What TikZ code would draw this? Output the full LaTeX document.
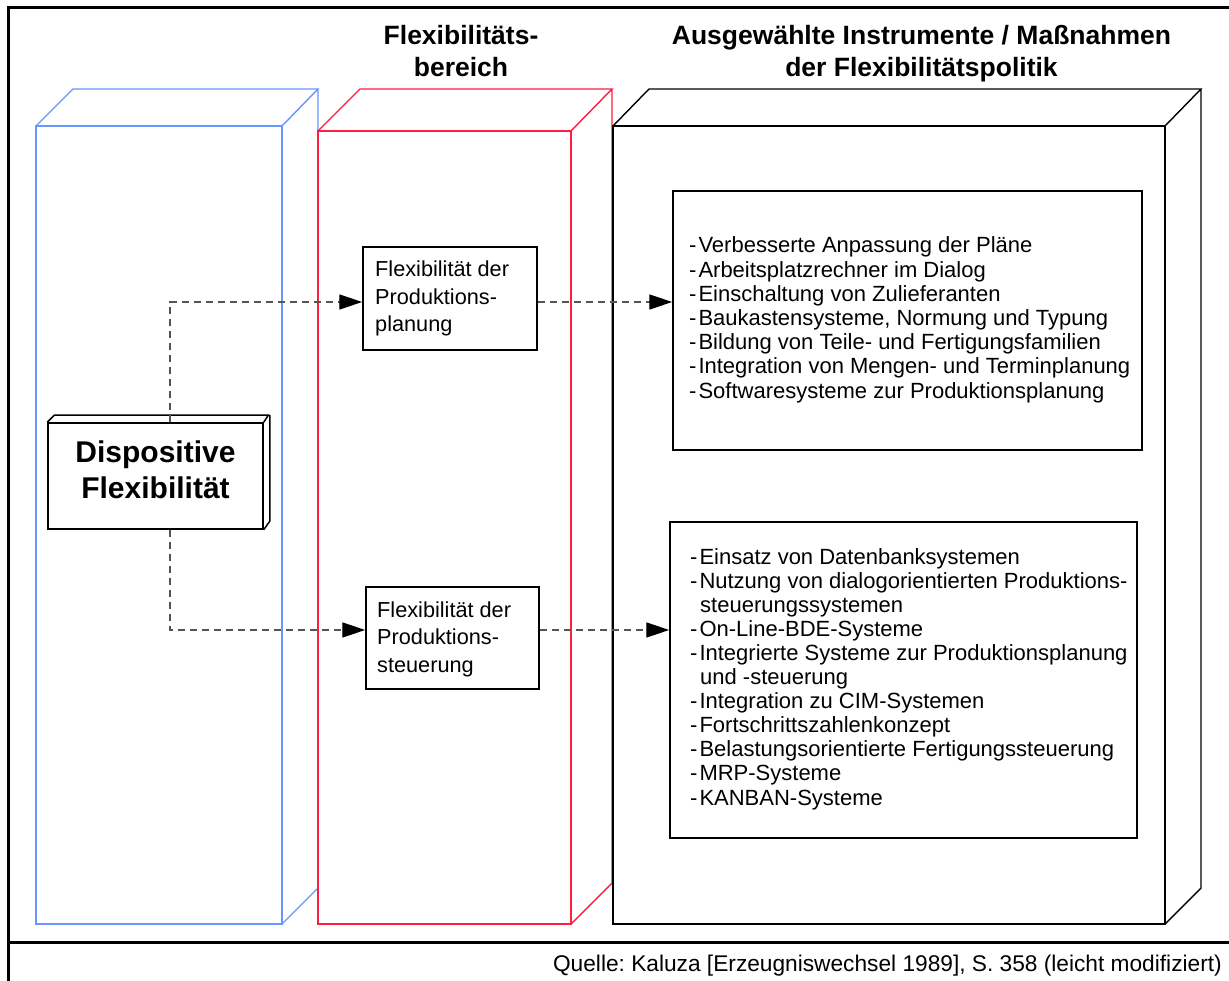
\documentclass[tikz,border=0pt]{standalone}
\usepackage{fontspec}
\setmainfont{Liberation Sans}
\usetikzlibrary{arrows.meta}
\definecolor{boxblue}{RGB}{102,150,255}
\definecolor{boxred}{RGB}{255,30,64}
\definecolor{dashgray}{RGB}{85,85,85}
\frenchspacing
\tikzset{
  frameline/.style={line width=3pt},
  cube/.style={line width=1.4pt, line join=miter},
  plainbox/.style={draw, line width=1.5pt, rectangle, inner sep=0pt, fill=white},
  conn/.style={dashgray, line width=1.4pt, dash pattern=on 7pt off 5pt,
    -{Triangle[length=23pt,width=15pt,color=black,fill=black]}},
  lst/.style={anchor=base west, inner sep=0pt, font=\fontsize{22}{24}\selectfont},
  boxtext/.style={anchor=base west, inner sep=0pt, font=\fontsize{21.7}{24}\selectfont},
  head/.style={anchor=base, inner sep=0pt, font=\bfseries\fontsize{26.5}{32}\selectfont},
  dispotext/.style={anchor=base, inner sep=0pt, font=\bfseries\fontsize{30}{36}\selectfont},
}
\begin{document}
\begin{tikzpicture}[x=1pt,y=-1pt]
\useasboundingbox (0,0) rectangle (1229,981);
\clip (0,0) rectangle (1229,981);
\fill[white] (0,0) rectangle (1229,981);

% outer frame and footer rule
\draw[frameline] (8,8) rectangle (1240,995);
\draw[frameline] (8,942) -- (1240,942);

% column headings
\node[head] (h1a) at (461,45) {Flexibilitäts-};
\node[head] (h1b) at (461,77) {bereich};
\node[head] (h2a) at (921.5,45) {Ausgewählte Instrumente / Maßnahmen};
\node[head] (h2b) at (921.5,77) {der Flexibilitätspolitik};

% blue column
\draw[cube, boxblue] (36,126) rectangle (282,924);
\draw[cube, boxblue] (36,126) -- (73,89) -- (318,89) -- (282,126)
                     (318,89) -- (318,888) -- (282,924);
% red column
\draw[cube, boxred] (318,131) rectangle (571,924);
\draw[cube, boxred] (318,131) -- (360,89) -- (612,89) -- (571,131)
                    (612,89) -- (612,883) -- (571,924);
% black column
\draw[cube, black] (613,126) rectangle (1165,924);
\draw[cube, black] (613,126) -- (649,89) -- (1201,89) -- (1165,126)
                   (1201,89) -- (1201,888) -- (1165,924);

% dispositive flexibility block
\node[plainbox, minimum width=215pt, minimum height=106pt] (dispo) at (155.5,476) {};
\draw[line width=1.5pt, line join=miter] (dispo.north west) -- ++(7,-7) -- ++(214,0) -- (dispo.north east)
   ++(6,-7) -- ++(0,106) -- (dispo.south east);
\node[dispotext] (d1) at (155.5,462) {Dispositive};
\node[dispotext] (d2) at (155.5,498) {Flexibilität};

% middle boxes
\node[plainbox, minimum width=174pt, minimum height=103pt] (plan) at (450,298.5) {};
\node[boxtext] (p1) at (375,277) {Flexibilität der};
\node[boxtext] (p2) at (375,304.5) {Produktions-};
\node[boxtext] (p3) at (375,332) {planung};

\node[plainbox, minimum width=173pt, minimum height=102pt] (steuer) at (452.5,638) {};
\node[boxtext] (s1) at (377,617) {Flexibilität der};
\node[boxtext] (s2) at (377,644.5) {Produktions-};
\node[boxtext] (s3) at (377,672) {steuerung};

% instrument lists
\node[plainbox, minimum width=469pt, minimum height=259pt] (list1) at (907.5,320.5) {};
\foreach \t [count=\i from 0] in {
  Verbesserte Anpassung der Pläne,
  Arbeitsplatzrechner im Dialog,
  Einschaltung von Zulieferanten,
  {Baukastensysteme, Normung und Typung},
  Bildung von Teile- und Fertigungsfamilien,
  Integration von Mengen- und Terminplanung,
  Softwaresysteme zur Produktionsplanung}
  \node[lst] (a\i) at (689,253+24.2*\i) {-\hspace{2pt}\t};

\node[plainbox, minimum width=467pt, minimum height=316pt] (list2) at (903.5,680) {};
\foreach \t/\dx [count=\i from 0] in {
  -\hspace{2pt}Einsatz von Datenbanksystemen/0,
  -\hspace{2pt}Nutzung von dialogorientierten Produktions-/0,
  steuerungssystemen/10,
  -\hspace{2pt}On-Line-BDE-Systeme/0,
  -\hspace{2pt}Integrierte Systeme zur Produktionsplanung/0,
  und -steuerung/10,
  -\hspace{2pt}Integration zu CIM-Systemen/0,
  -\hspace{2pt}Fortschrittszahlenkonzept/0,
  -\hspace{2pt}Belastungsorientierte Fertigungssteuerung/0,
  -\hspace{2pt}MRP-Systeme/0,
  -\hspace{2pt}KANBAN-Systeme/0}
  \node[lst] (b\i) at (690+\dx,564+24.1*\i) {\t};

% connectors
\coordinate (j1) at (170,302);
\coordinate (j2) at (170,630);
\draw[conn] (dispo.north -| j1) |- (plan.west |- j1);
\draw[conn] (plan.east |- j1) -- (list1.west |- j1);
\draw[conn] (dispo.south -| j2) |- (steuer.west |- j2);
\draw[conn] (steuer.east |- j2) -- (list2.west |- j2);

% source line
\node[anchor=base east, inner sep=0pt, font=\fontsize{22.7}{27}\selectfont] (src) at (1222,971)
  {Quelle: Kaluza [Erzeugniswechsel 1989], S. 358 (leicht modifiziert)};
\end{tikzpicture}
\end{document}
